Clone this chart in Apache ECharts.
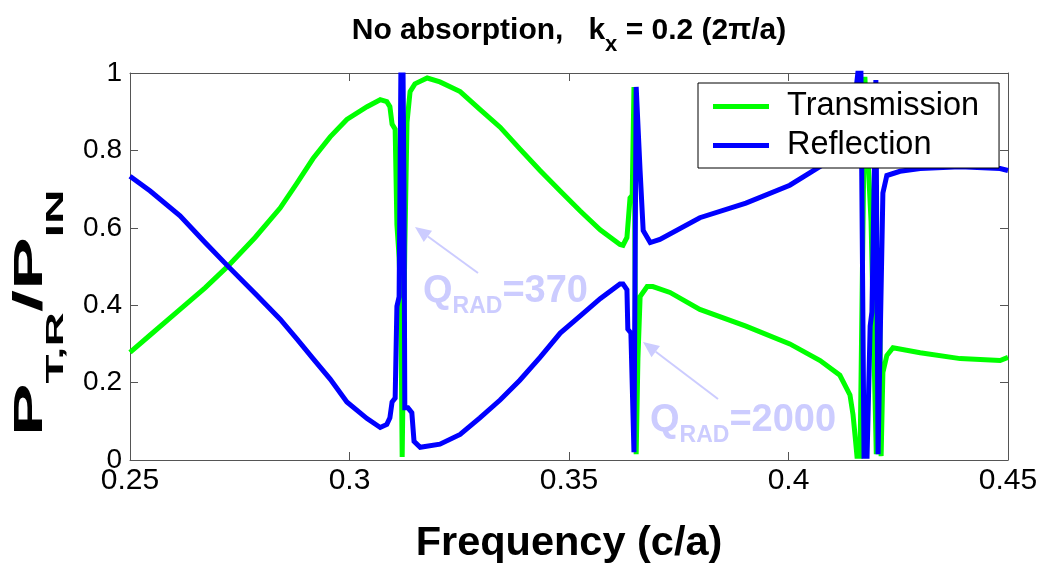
<!DOCTYPE html>
<html><head><meta charset="utf-8">
<script src="https://cdn.jsdelivr.net/npm/echarts@6/dist/echarts.min.js"></script>
<style>html,body{margin:0;padding:0;background:#fff}#c{width:1042px;height:570px}</style>
</head><body><div id="c"></div>
<script>
// ---- data ----
const seriesNames = ['Transmission', 'Reflection'];
const xTickLabels = ['0.25', '0.3', '0.35', '0.4', '0.45'];
const yTickLabels = ['0', '0.2', '0.4', '0.6', '0.8', '1'];

const tFreq = [0.2500,0.2546,0.2614,0.2671,0.2723,0.2785,0.2842,0.2880,0.2917,0.2956,
  0.2994,0.3040,0.3070,0.3085,0.3092,0.3097,0.3104,0.3108,0.3113,0.3117,
  0.3120,0.3122,0.3126,0.3131,0.3138,0.3149,0.3177,0.3206,0.3252,0.3297,
  0.3343,0.3388,0.3434,0.3480,0.3525,0.3571,0.3616,0.3623,0.3632,0.3639,
  0.3644,0.3648,0.3653,0.3657,0.3662,0.3678,0.3691,0.3730,0.3798,0.3903,
  0.4003,0.4072,0.4117,0.4140,0.4147,0.4152,0.4156,0.4163,0.4174,0.4181,
  0.4188,0.4200,0.4208,0.4211,0.4215,0.4224,0.4238,0.4300,0.4391,0.4482,0.4500];
const tVal = [0.278,0.323,0.389,0.445,0.501,0.575,0.651,0.715,0.779,0.835,
  0.880,0.913,0.931,0.926,0.913,0.868,0.855,0.608,0.524,0.389,
  0.008,0.008,0.550,0.873,0.952,0.972,0.987,0.977,0.952,0.906,
  0.860,0.804,0.748,0.695,0.644,0.595,0.557,0.555,0.575,0.677,
  0.684,0.964,0.015,0.262,0.422,0.448,0.448,0.433,0.389,0.346,
  0.300,0.257,0.219,0.168,0.117,0.059,0.010,0.010,0.990,0.779,
  0.618,0.015,0.372,0.010,0.226,0.270,0.290,0.277,0.262,0.257,0.265];

const rFreq = [0.2500,0.2546,0.2614,0.2671,0.2723,0.2785,0.2842,0.2880,0.2917,0.2956,
  0.2994,0.3040,0.3070,0.3085,0.3092,0.3097,0.3104,0.3108,0.3113,0.3117,
  0.3122,0.3124,0.3126,0.3133,0.3142,0.3147,0.3161,0.3206,0.3252,0.3297,
  0.3343,0.3388,0.3434,0.3480,0.3525,0.3571,0.3616,0.3623,0.3632,0.3634,
  0.3641,0.3648,0.3653,0.3662,0.3669,0.3685,0.3707,0.3798,0.3903,0.4003,
  0.4101,0.4140,0.4147,0.4152,0.4158,0.4165,0.4172,0.4179,0.4186,0.4190,
  0.4199,0.4204,0.4215,0.4224,0.4254,0.4300,0.4391,0.4482,0.4500];
const rVal = [0.733,0.695,0.631,0.562,0.501,0.430,0.364,0.313,0.262,0.209,
  0.150,0.107,0.084,0.092,0.109,0.150,0.160,0.397,0.422,0.995,
  0.995,0.715,0.135,0.135,0.122,0.048,0.033,0.041,0.066,0.109,
  0.155,0.206,0.265,0.328,0.372,0.417,0.455,0.455,0.440,0.338,
  0.328,0.020,0.964,0.746,0.593,0.562,0.570,0.626,0.664,0.710,
  0.779,0.830,0.880,0.939,1.000,1.000,0.010,0.010,0.346,0.382,
  0.982,0.015,0.690,0.735,0.746,0.753,0.758,0.753,0.748];

// ---- chart ----
const chart = echarts.init(document.getElementById('c'), null, {renderer: 'canvas'});
const FONT = '"Liberation Sans", Arial, Helvetica, sans-serif';
const AX = '#555555';
const annotColor = '#ccccff';

function pairs(xs, ys) { return xs.map((x, i) => [x, ys[i]]); }

function arrow(x1, y1, x2, y2) {
  const ang = Math.atan2(y2 - y1, x2 - x1);
  const L = 16, W = 7;
  const bx = x2 - L * Math.cos(ang), by = y2 - L * Math.sin(ang);
  const px = -Math.sin(ang) * W, py = Math.cos(ang) * W;
  return [
    {type: 'line', shape: {x1: x1, y1: y1, x2: bx, y2: by}, style: {stroke: annotColor, lineWidth: 2}, z: 10},
    {type: 'polygon', shape: {points: [[x2, y2], [bx + px, by + py], [bx - px, by - py]]}, style: {fill: annotColor}, z: 10}
  ];
}

const qRich = {
  q: {fontSize: 38, fontWeight: 'bold', fontFamily: FONT, fill: annotColor, lineHeight: 38, verticalAlign: 'top'},
  s: {fontSize: 23, fontWeight: 'bold', fontFamily: FONT, fill: annotColor, lineHeight: 23, padding: [22, 0, 0, 0], verticalAlign: 'top'}
};

const option = {
  animation: false,
  backgroundColor: '#ffffff',
  grid: {left: 130, right: 34, top: 73, bottom: 104, containLabel: false},
  legend: {
    data: seriesNames,
    orient: 'vertical',
    left: 698, top: 83,
    backgroundColor: '#ffffff',
    borderColor: '#000000', borderWidth: 1, borderRadius: 0,
    padding: [7, 20, 6, 15],
    itemWidth: 56, itemHeight: 5, itemGap: 6,
    icon: 'rect',
    textStyle: {fontSize: 32.5, fontFamily: FONT, color: '#000', lineHeight: 30, padding: [0, 0, 0, 13]}
  },
  xAxis: [{
    type: 'value', min: 0.25, max: 0.45, interval: 0.05, position: 'bottom',
    axisLine: {show: true, lineStyle: {color: AX, width: 1}},
    axisTick: {show: true, inside: true, length: 8, lineStyle: {color: AX}},
    axisLabel: {fontSize: 30, fontFamily: FONT, color: '#000', margin: 6,
      formatter: v => xTickLabels[Math.round((v - 0.25) / 0.05)]},
    splitLine: {show: false},
    name: 'Frequency (c/a)', nameLocation: 'middle', nameGap: 63,
    nameTextStyle: {fontSize: 41.5, fontWeight: 'bold', fontFamily: FONT, color: '#000'}
  }, {
    type: 'value', min: 0.25, max: 0.45, interval: 0.05, position: 'top',
    axisLine: {show: true, onZero: false, lineStyle: {color: AX, width: 1}},
    axisTick: {show: true, inside: true, length: 8, lineStyle: {color: AX}},
    axisLabel: {show: false}, splitLine: {show: false}
  }],
  yAxis: [{
    type: 'value', min: 0, max: 1, interval: 0.2, position: 'left',
    axisLine: {show: true, lineStyle: {color: AX, width: 1}},
    axisTick: {show: true, inside: true, length: 8, lineStyle: {color: AX}},
    axisLabel: {fontSize: 28, fontFamily: FONT, color: '#000', margin: 8,
      formatter: v => yTickLabels[Math.round(v / 0.2)]},
    splitLine: {show: false}
  }, {
    type: 'value', min: 0, max: 1, interval: 0.2, position: 'right',
    axisLine: {show: true, onZero: false, lineStyle: {color: AX, width: 1}},
    axisTick: {show: true, inside: true, length: 8, lineStyle: {color: AX}},
    axisLabel: {show: false}, splitLine: {show: false}
  }],
  series: [{
    name: seriesNames[0], type: 'line', xAxisIndex: 0, yAxisIndex: 0,
    data: pairs(tFreq, tVal), showSymbol: false, symbol: 'none',
    lineStyle: {color: '#00ff00', width: 5, join: 'miter'}, itemStyle: {color: '#00ff00'}, z: 2
  }, {
    name: seriesNames[1], type: 'line', xAxisIndex: 0, yAxisIndex: 0,
    data: pairs(rFreq, rVal), showSymbol: false, symbol: 'none',
    lineStyle: {color: '#0000ff', width: 5, join: 'miter'}, itemStyle: {color: '#0000ff'}, z: 3
  }],
  graphic: [
    // title
    {type: 'text', x: 569, y: 16, z: 20, style: {
      text: '{b|No absorption,   k}{s|x}{b| = 0.2 (2π/a)}', align: 'center', verticalAlign: 'top',
      rich: {
        b: {fontSize: 30, fontWeight: 'bold', fontFamily: FONT, fill: '#000', lineHeight: 30, verticalAlign: 'top'},
        s: {fontSize: 22, fontWeight: 'bold', fontFamily: FONT, fill: '#000', lineHeight: 22, padding: [18, 0, 0, 0], verticalAlign: 'top'}
      }}},
    // y axis label
    {type: 'text', x: 11, y: 313, rotation: Math.PI / 2, scaleX: 1.98, z: 20, style: {
      text: '{p|P}{s|T,R}{p|/P}{s|IN}', align: 'center', verticalAlign: 'top',
      rich: {
        p: {fontSize: 40, fontWeight: 'bold', fontFamily: FONT, fill: '#000', lineHeight: 40, verticalAlign: 'top'},
        s: {fontSize: 24, fontWeight: 'bold', fontFamily: FONT, fill: '#000', lineHeight: 24, padding: [33, 0, 0, 0], verticalAlign: 'top'}
      }}},
    // annotations
    {type: 'text', x: 423, y: 273, z: 10, style: {text: '{q|Q}{s|RAD}{q|=370}', align: 'left', verticalAlign: 'top', rich: qRich}},
    {type: 'text', x: 650, y: 402, z: 10, style: {text: '{q|Q}{s|RAD}{q|=2000}', align: 'left', verticalAlign: 'top', rich: qRich}}
  ].concat(arrow(478, 273, 415, 227)).concat(arrow(718, 399, 643, 342))
};
chart.setOption(option);
</script>
</body></html>
